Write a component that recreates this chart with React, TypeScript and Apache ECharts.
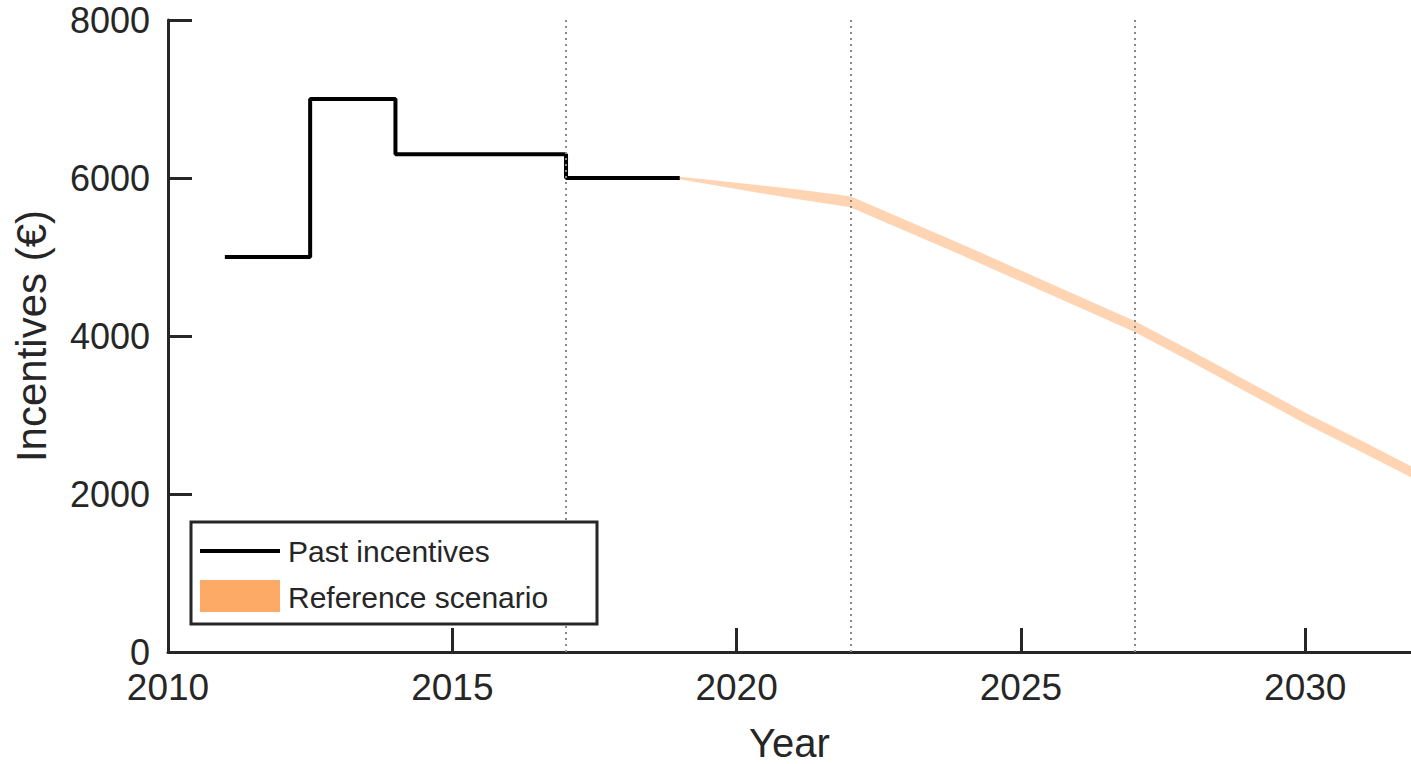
import React, { useEffect, useRef } from "react";
import * as echarts from "echarts";

// Past incentives (step changes)
const pastYears = [2011, 2012.5, 2014, 2017, 2019];
const pastValues = [5000, 7000, 6300, 6000, 6000];

// Reference scenario band
const refYears = [2019, 2020, 2021, 2022, 2023, 2024, 2025, 2026, 2027, 2028, 2029, 2030, 2031, 2032];
const refLow = [5985, 5860, 5740, 5630, 5320, 5010, 4690, 4370, 4050, 3670, 3280, 2890, 2530, 2160];
const refHigh = [6015, 5940, 5860, 5770, 5460, 5150, 4830, 4510, 4190, 3810, 3420, 3030, 2670, 2300];

// Vertical dotted markers
const markerYears = [2017, 2022, 2027];

const xTicks = [2010, 2015, 2020, 2025, 2030];
const yTicks = [0, 2000, 4000, 6000, 8000];

const FONT = "'Liberation Sans', Arial, sans-serif";
const AXIS_COLOR = "#262626";

export default function App() {
  const ref = useRef<HTMLDivElement>(null);

  useEffect(() => {
    if (!ref.current) return;
    const chart = echarts.init(ref.current, undefined, { renderer: "svg" });

    const option: any = {
      animation: false,
      backgroundColor: "#ffffff",
      textStyle: { fontFamily: FONT },
      grid: {
        left: 168,
        top: 20,
        right: 0,
        bottom: 112,
        containLabel: false,
        outerBoundsMode: "none",
      },
      xAxis: {
        type: "value",
        min: 2010,
        max: 2031.86,
        interval: 5,
        name: "Year",
        nameLocation: "middle",
        nameGap: 72,
        nameTextStyle: { fontSize: 40, lineHeight: 38, color: AXIS_COLOR, fontFamily: FONT },
        axisLine: { show: true, lineStyle: { color: AXIS_COLOR, width: 3 } },
        axisTick: { show: true, inside: true, length: 24, lineStyle: { color: AXIS_COLOR, width: 3 } },
        axisLabel: {
          show: true,
          fontSize: 37,
          lineHeight: 32,
          color: AXIS_COLOR,
          fontFamily: FONT,
          margin: 19,
          showMaxLabel: false,
          formatter: (v: number) => (xTicks.indexOf(v) >= 0 ? String(v) : ""),
        },
        splitLine: { show: false },
      },
      yAxis: {
        type: "value",
        min: 0,
        max: 8000,
        interval: 2000,
        name: "Incentives (€)",
        nameLocation: "middle",
        nameGap: 116,
        nameRotate: 90,
        nameTextStyle: { fontSize: 42, color: AXIS_COLOR, fontFamily: FONT },
        axisLine: { show: true, lineStyle: { color: AXIS_COLOR, width: 3 } },
        axisTick: { show: true, inside: true, length: 24, lineStyle: { color: AXIS_COLOR, width: 3 } },
        axisLabel: {
          show: true,
          fontSize: 36,
          lineHeight: 28,
          color: AXIS_COLOR,
          fontFamily: FONT,
          margin: 18,
          formatter: (v: number) => (yTicks.indexOf(v) >= 0 ? String(v) : ""),
        },
        splitLine: { show: false },
      },
      series: [
        {
          name: "Reference scenario",
          type: "custom",
          silent: true,
          clip: true,
          data: [[refYears[0], refLow[0]]],
          renderItem: (params: any, api: any) => {
            const pts: number[][] = [];
            for (let i = 0; i < refYears.length; i++) pts.push(api.coord([refYears[i], refHigh[i]]));
            for (let i = refYears.length - 1; i >= 0; i--) pts.push(api.coord([refYears[i], refLow[i]]));
            return {
              type: "polygon",
              shape: { points: pts },
              style: { fill: "rgba(253,170,102,0.5)", stroke: "none" },
            };
          },
          z: 2,
        },
        {
          name: "markers",
          type: "line",
          data: [],
          silent: true,
          markLine: {
            symbol: "none",
            silent: true,
            label: { show: false },
            lineStyle: { color: "#8a8a8a", type: [2, 4], width: 2 },
            data: markerYears.map((y) => ({ xAxis: y })),
          },
          z: 3,
        },
        {
          name: "Past incentives",
          type: "line",
          step: "end",
          symbol: "none",
          lineStyle: { color: "#000000", width: 4 },
          data: pastYears.map((y, i) => [y, pastValues[i]]),
          z: 4,
        },
      ],
      graphic: [
        {
          type: "rect",
          z: 100,
          shape: { x: 191, y: 522, width: 406, height: 102 },
          style: { fill: "#ffffff", stroke: AXIS_COLOR, lineWidth: 3 },
        },
        {
          type: "line",
          z: 101,
          shape: { x1: 200, y1: 551, x2: 280, y2: 551 },
          style: { stroke: "#000000", lineWidth: 4 },
        },
        {
          type: "rect",
          z: 101,
          shape: { x: 200, y: 580, width: 80, height: 32 },
          style: { fill: "#FDAA66" },
        },
        {
          type: "text",
          z: 101,
          x: 288,
          y: 551,
          style: {
            text: "Past incentives",
            fill: AXIS_COLOR,
            font: "30px " + FONT,
            verticalAlign: "middle",
            align: "left",
          },
        },
        {
          type: "text",
          z: 101,
          x: 288,
          y: 597,
          style: {
            text: "Reference scenario",
            fill: AXIS_COLOR,
            font: "30px " + FONT,
            verticalAlign: "middle",
            align: "left",
          },
        },
      ],
    };

    chart.setOption(option);
    return () => chart.dispose();
  }, []);

  return (
    <div
      ref={ref}
      style={{ position: "absolute", left: 0, top: 0, width: 1411, height: 764, background: "#fff" }}
    />
  );
}
